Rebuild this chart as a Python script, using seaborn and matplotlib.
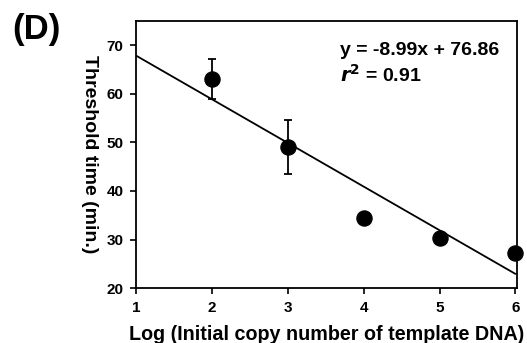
import numpy as np
import pandas as pd
import matplotlib
matplotlib.use("Agg")
import matplotlib.pyplot as plt
import seaborn as sns

# data
log_copy = [2, 3, 4, 5, 6]
threshold_time = [63.0, 49.1, 34.5, 30.3, 27.2]
error = [4.1, 5.6, 1.0, 0.6, 0.6]
slope = -8.99
intercept = 76.86
r2 = 0.91
fit_x = [1, 6]

sns.set_theme(style="white")
plt.rcParams['font.family'] = ['Liberation Sans', 'DejaVu Sans']
plt.rcParams['text.color'] = 'black'
plt.rcParams['axes.labelcolor'] = 'black'
plt.rcParams['xtick.color'] = 'black'
plt.rcParams['ytick.color'] = 'black'

fig = plt.figure(figsize=(5.27, 3.43), dpi=100)
ax = fig.add_axes([0.258, 0.160, 0.723, 0.779])

df = pd.DataFrame({"x": log_copy, "y": threshold_time})
fit_df = pd.DataFrame({"x": fit_x, "y": [slope * v + intercept for v in fit_x]})

sns.lineplot(data=fit_df, x="x", y="y", color="black", linewidth=1.3, ax=ax, zorder=2)
ax.errorbar(log_copy, threshold_time, yerr=error, fmt="none", ecolor="black",
            elinewidth=1.3, capsize=3, capthick=1.3, zorder=3)
sns.scatterplot(data=df, x="x", y="y", color="black", s=120, edgecolor="black",
                ax=ax, zorder=4, clip_on=False)

ax.set_xlim(1, 6.02)
ax.set_ylim(20, 75)
ax.set_xticks([1, 2, 3, 4, 5, 6])
ax.set_yticks([20, 30, 40, 50, 60, 70])
ax.set_xticklabels(["1", "2", "3", "4", "5", "6"], fontweight="bold", fontsize=11)
ax.set_yticklabels(["20", "30", "40", "50", "60", "70"], fontweight="bold", fontsize=11)
ax.tick_params(axis="both", which="major", direction="out", length=4, width=1.2,
               colors="black", bottom=True, left=True, top=False, right=False, pad=5)
for s in ax.spines.values():
    s.set_color("black")
    s.set_linewidth(1.3)

ax.set_xlabel("Log (Initial copy number of template DNA)", fontsize=14.2,
              fontweight="bold", va="center")
ax.xaxis.set_label_coords(0.5, -0.172)
ax.set_ylabel("Threshold time (min.)", fontsize=14, fontweight="bold",
              rotation=-90, va="center")
ax.yaxis.set_label_coords(-0.121, 0.5)

ax.text(0.535, 0.891, "y = -8.99x + 76.86", transform=ax.transAxes,
        fontsize=14, fontweight="bold", va="center")
ax.text(0.535, 0.800, r"$\mathbfit{r}^{\mathbf{2}}$" + " = 0.91", transform=ax.transAxes,
        fontsize=14, fontweight="bold", va="center")

fig.text(0.024, 0.913, "(D)", fontsize=25, fontweight="bold", va="center")

fig.savefig("out.png", dpi=100)
